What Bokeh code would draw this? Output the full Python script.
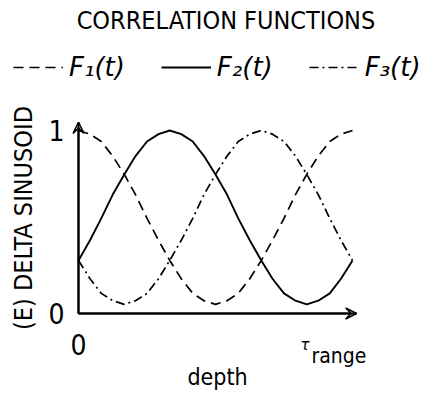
from bokeh.plotting import figure
from bokeh.models import Range1d, FixedTicker, Label, Legend, LegendItem, Arrow, VeeHead
from bokeh.embed import file_html
from bokeh.resources import INLINE

# ---- data ----
depth = [0.0, 0.042, 0.083, 0.125, 0.167, 0.208, 0.25, 0.292, 0.333, 0.375, 0.417, 0.458,
         0.5, 0.542, 0.583, 0.625, 0.667, 0.708, 0.75, 0.792, 0.833, 0.875, 0.917, 0.958, 1.0]
f1 = [1.00, 0.98, 0.94, 0.86, 0.76, 0.65, 0.52, 0.40, 0.29, 0.19, 0.11, 0.07,
      0.05, 0.07, 0.11, 0.19, 0.29, 0.40, 0.52, 0.65, 0.76, 0.86, 0.94, 0.98, 1.00]
f2 = [0.29, 0.40, 0.52, 0.65, 0.76, 0.86, 0.94, 0.98, 1.00, 0.98, 0.94, 0.86,
      0.76, 0.65, 0.52, 0.40, 0.29, 0.19, 0.11, 0.07, 0.05, 0.07, 0.11, 0.19, 0.29]
f3 = [0.29, 0.19, 0.11, 0.07, 0.05, 0.07, 0.11, 0.19, 0.29, 0.40, 0.52, 0.65,
      0.76, 0.86, 0.94, 0.98, 1.00, 0.98, 0.94, 0.86, 0.76, 0.65, 0.52, 0.40, 0.29]
series_labels = ["F\u2081(t)", "F\u2082(t)", "F\u2083(t)"]
y_ticks = [0, 1]
x_ticks = [0]
title_text = "CORRELATION  FUNCTIONS"
y_label = "(E) DELTA SINUSOID"
x_label = "depth"

COND = "DejaVu Sans Condensed"

p = figure(width=425, height=396, output_backend="svg", toolbar_location=None,
           x_range=Range1d(-0.2847, 1.2664), y_range=Range1d(-0.4536, 1.7104),
           min_border=0)
p.outline_line_color = None
p.grid.visible = False

r1 = p.line(depth, f1, line_color="black", line_width=1.7, line_dash="10 6")
r2 = p.line(depth, f2, line_color="black", line_width=1.9)
r3 = p.line(depth, f3, line_color="black", line_width=1.7, line_dash="9 4 2 4")

X_END = 1.015
Y_END = 1.044
for ax in (p.xaxis[0], p.yaxis[0]):
    ax.fixed_location = 0
    ax.axis_line_color = "black"
    ax.axis_line_width = 2
    ax.major_tick_line_color = None
    ax.minor_tick_line_color = None
    ax.major_label_text_font = COND
    ax.major_label_text_font_size = "28px"
    ax.major_label_text_color = "black"
    ax.axis_label_text_font = COND
    ax.axis_label_text_font_style = "normal"
    ax.axis_label_text_color = "black"

p.xaxis.bounds = (0, X_END)
p.yaxis.bounds = (0, Y_END)
p.yaxis.ticker = FixedTicker(ticks=y_ticks)
p.xaxis.ticker = FixedTicker(ticks=x_ticks)
p.yaxis.major_label_standoff = 8
p.xaxis.major_label_standoff = 15
p.yaxis.axis_label = y_label
p.yaxis.axis_label_text_font_size = "25px"
p.yaxis.axis_label_standoff = 7
p.xaxis.axis_label = x_label
p.xaxis.axis_label_text_font_size = "23px"
p.xaxis.axis_label_standoff = 5

# arrow heads on the axes
p.add_layout(Arrow(end=VeeHead(size=11, line_color="black", line_width=1.5, fill_color=None),
                   x_start=0, y_start=0, x_end=0, y_end=Y_END,
                   line_color="black", line_width=2))
p.add_layout(Arrow(end=VeeHead(size=11, line_color="black", line_width=1.5, fill_color=None),
                   x_start=0, y_start=0, x_end=X_END, y_end=0,
                   line_color="black", line_width=2))

# title
p.add_layout(Label(x=229, y=376, x_units="screen", y_units="screen", text=title_text,
                   text_align="center", text_baseline="middle",
                   text_font=COND, text_font_size="25px", text_color="black"))

# tau range
p.add_layout(Label(x=300, y=52, x_units="screen", y_units="screen", text="\u03c4",
                   text_align="left", text_baseline="middle", text_font_style="italic",
                   text_font="DejaVu Sans", text_font_size="15px", text_color="black"))
p.add_layout(Label(x=311, y=41, x_units="screen", y_units="screen", text="range",
                   text_align="left", text_baseline="middle",
                   text_font=COND, text_font_size="21px", text_color="black"))

legend = Legend(items=[LegendItem(label=series_labels[0], renderers=[r1]),
                       LegendItem(label=series_labels[1], renderers=[r2]),
                       LegendItem(label=series_labels[2], renderers=[r3])],
                orientation="horizontal", location=(13, 314),
                glyph_width=50, glyph_height=20, label_standoff=6, spacing=36,
                padding=0, margin=0, border_line_color=None, background_fill_alpha=0,
                label_text_font="DejaVu Sans", label_text_font_style="italic",
                label_text_font_size="26px", label_text_color="black")
p.add_layout(legend, "center")

open("out.html", "w").write(file_html(p, INLINE))
